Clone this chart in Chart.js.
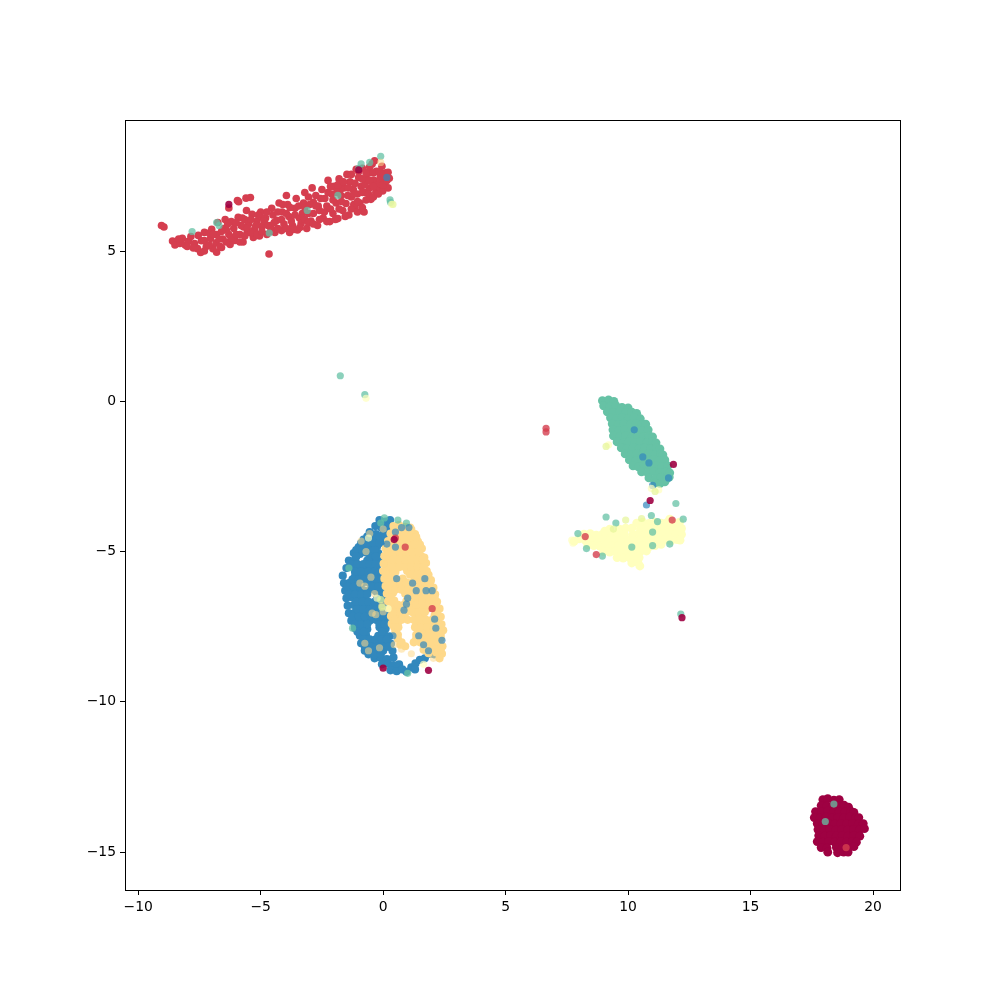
<!DOCTYPE html>
<html>
<head>
<meta charset="utf-8">
<title>Cluster scatter</title>
<script src="https://cdn.jsdelivr.net/npm/chart.js@4"></script>
<style>
    html, body { margin: 0; padding: 0; background: #ffffff; }
    canvas { display: block; }
</style>
</head>
<body>
<canvas id="scatterChart" width="1000" height="1000"></canvas>
<script>
// Tick labels
const xTicks = [-10, -5, 0, 5, 10, 15, 20];
const yTicks = [5, 0, -5, -10, -15];

// Main body of each cluster, [x, y]
const redPoints = [
    [-9.05,5.85],[-8.95,5.8],[-8.6,5.33],[-8.5,5.2],[-8.3,5.25],[-8.2,5.42],[-8.08,5.2],[-7.95,5.32],[-7.85,5.48],[-7.7,5.25],[-7.58,5.08],[-7.55,5.52],
    [-7.42,5.34],[-7.45,4.95],[-7.3,5.62],[-7.22,5.15],[-7.05,5.42],[-7.0,5.72],[-6.95,5.08],[-6.82,5.27],[-6.8,5.55],[-6.75,5.95],[-6.8,4.96],[-6.6,5.12],
    [-6.55,5.4],[-6.5,5.75],[-6.45,6.05],[-6.3,6.43],[-6.3,5.55],[-6.25,5.22],[-6.2,5.98],[-6.1,5.75],[-6.05,5.35],[-5.95,6.68],[-5.9,6.64],[-5.92,6.12],[-5.85,5.55],
    [-5.8,5.85],[-5.72,5.3],[-5.65,6.05],[-5.58,6.35],[-5.55,5.62],[-5.5,5.9],[-5.6,6.76],[-5.42,6.78],[-5.35,6.22],[-5.3,5.45],[-5.25,5.72],[-5.15,6.0],[-5.05,5.5],
    [-5.0,6.3],[-4.95,5.82],[-4.8,6.1],[-4.75,5.55],[-4.66,4.9],[-4.6,5.85],[-4.55,6.42],[-4.5,6.2],[-4.42,5.62],[-4.35,6.02],[-4.25,6.6],[-4.15,5.68],[-4.12,6.3],
    [-4.05,5.9],[-3.95,6.85],[-3.9,6.55],[-3.85,6.15],[-3.82,5.62],[-3.7,5.85],[-3.6,6.42],[-3.55,6.75],[-3.5,5.7],[-3.42,6.1],[-3.35,5.92],[-3.25,6.6],[-3.2,6.95],
    [-3.12,5.75],[-3.05,6.25],[-2.95,6.0],[-2.9,7.1],[-2.85,6.62],[-2.75,6.85],[-2.68,5.85],[-2.6,6.35],[-2.5,7.05],[-2.45,6.1],[-2.38,6.75],[-2.3,6.5],[-2.25,7.35],
    [-2.18,5.98],[-2.1,6.9],[-2.05,6.25],[-2.0,7.15],[-1.92,6.6],[-1.85,6.08],[-1.8,7.4],[-1.72,6.85],[-1.65,6.35],[-1.6,7.1],[-1.52,6.58],[-1.48,7.55],[-1.4,6.2],
    [-1.35,7.3],[-1.3,6.8],[-1.22,7.05],[-1.15,6.45],[-1.1,7.72],[-1.05,6.9],[-1.0,7.45],[-0.95,6.6],[-0.9,7.15],[-0.85,7.75],[-0.78,6.3],[-0.72,6.95],[-0.68,7.4],
    [-0.6,7.6],[-0.55,7.1],[-0.5,6.72],[-0.45,7.9],[-0.38,7.35],[-0.3,6.95],[-0.28,7.65],[-0.2,7.15],[-0.12,7.45],[-0.05,7.82],[-0.02,7.0],[0.08,7.3],[0.1,7.6],
    [0.2,7.1],[0.25,7.42],[-0.35,8.0],[-0.75,7.2],[-1.2,6.55],[-2.65,6.5],[-3.05,6.8],[-4.5,5.7],[-4.9,6.1],[-5.7,5.8],[-6.4,5.7],[-7.1,5.6],[-1.75,7.05],[-0.15,7.25]
];
const redFill = [
    [-8.35,5.4],[-8.0,5.15],[-7.75,5.1],[-7.3,5.35],[-7.3,5.0],[-7.1,5.2],[-6.95,5.55],[-6.7,5.4],[-6.65,5.15],[-6.6,5.65],[-6.4,5.3],[-6.35,5.9],[-6.2,5.45],[-6.0,5.55],[-6.0,5.95],
    [-5.85,5.3],[-5.75,6.1],[-5.65,5.5],[-5.55,5.75],[-5.4,6.05],[-5.4,5.6],[-5.2,5.85],[-5.15,5.55],[-5.1,6.2],[-4.95,5.65],[-4.85,6.0],[-4.7,5.85],[-4.75,6.3],[-4.6,5.65],[-4.45,5.95],
    [-4.3,5.75],[-4.3,6.3],[-4.15,6.05],[-4.1,6.55],[-3.95,5.75],[-3.95,6.25],[-3.8,6.45],[-3.75,6.0],[-3.65,5.72],[-3.6,6.2],[-3.45,6.5],[-3.4,5.78],[-3.3,6.25],[-3.2,6.05],[-3.2,6.45],
    [-3.05,5.95],[-3.0,6.55],[-2.85,6.25],[-2.85,5.9],[-2.75,6.5],[-2.6,6.05],[-2.55,6.75],[-2.4,6.3],[-2.3,5.98],[-2.25,6.95],[-2.15,6.4],[-2.15,7.15],[-2.05,6.7],[-1.95,6.05],[-1.9,6.95],
    [-1.85,7.2],[-1.8,6.4],[-1.7,6.65],[-1.62,7.3],[-1.55,6.15],[-1.45,6.85],[-1.42,7.1],[-1.3,6.4],[-1.3,7.55],[-1.2,6.9],[-1.15,7.25],[-1.05,6.3],[-1.05,6.65],[-1.0,7.65],[-0.85,6.45],
    [-0.85,6.95],[-0.85,7.4],[-0.7,6.7],[-0.7,7.6],[-0.6,6.9],[-0.55,7.35],[-0.55,7.8],[-0.4,7.15],[-0.4,6.8],[-0.4,7.6],[-0.2,6.9],[-0.15,7.65],[0.0,7.2],[0.0,7.55],[0.15,7.35],[0.2,7.62]
];
const bluePoints = [
    [-0.15,-3.95],[0.08,-4.0],[0.28,-3.95],[-0.32,-4.15],[-0.08,-4.2],[0.2,-4.18],[-0.55,-4.35],[-0.3,-4.42],[0.0,-4.4],[0.28,-4.38],[-0.8,-4.6],[-0.55,-4.63],[-0.3,-4.6],[-0.05,-4.66],
    [-1.0,-4.85],[-0.75,-4.82],[-0.5,-4.87],[-0.25,-4.83],[-1.2,-5.05],[-0.95,-5.08],[-0.7,-5.03],[-0.45,-5.07],[-0.2,-5.05],[-1.4,-5.3],[-1.15,-5.28],[-0.65,-5.3],[-0.4,-5.27],[-0.18,-5.32],
    [-1.5,-5.55],[-1.25,-5.52],[-1.0,-5.58],[-0.75,-5.55],[-0.5,-5.53],[-0.25,-5.57],[-1.65,-5.8],[-1.15,-5.83],[-0.9,-5.8],[-0.65,-5.77],[-0.4,-5.82],[-0.15,-5.8],
    [-1.6,-6.05],[-1.35,-6.03],[-1.1,-6.08],[-0.85,-6.05],[-0.6,-6.02],[-0.35,-6.07],[-0.1,-6.05],[-1.55,-6.3],[-1.3,-6.28],[-1.05,-6.33],[-0.8,-6.3],[-0.55,-6.27],[-0.3,-6.32],[-0.05,-6.3],
    [-1.5,-6.55],[-1.25,-6.53],[-1.0,-6.58],[-0.75,-6.55],[-0.25,-6.57],[0.0,-6.55],[-1.45,-6.8],[-1.2,-6.78],[-0.95,-6.83],[-0.7,-6.8],[-0.45,-6.77],[-0.2,-6.82],[0.05,-6.8],
    [-1.4,-7.05],[-1.15,-7.03],[-0.9,-7.08],[-0.65,-7.05],[-0.4,-7.02],[-0.15,-7.07],[0.1,-7.05],[-1.3,-7.3],[-1.05,-7.28],[-0.8,-7.33],[-0.55,-7.3],[-0.3,-7.27],[-0.05,-7.32],[0.15,-7.3],
    [-1.15,-7.55],[-0.9,-7.53],[-0.65,-7.58],[-0.15,-7.52],[0.1,-7.57],[-0.95,-7.8],[-0.7,-7.78],[-0.2,-7.8],[0.05,-7.77],[0.25,-7.82],[-0.9,-8.05],[-0.65,-8.03],
    [-0.4,-8.08],[-0.15,-8.05],[0.1,-8.02],[0.32,-8.07],[-0.75,-8.3],[-0.5,-8.28],[-0.25,-8.33],[0.0,-8.3],[0.38,-8.3],[-0.35,-8.55],[-0.1,-8.53],[0.15,-8.58],[0.42,-8.52],[-0.05,-8.75],[0.2,-8.73],
    [0.42,-8.78],[0.65,-8.75],[0.3,-8.95],[0.55,-8.98],[0.78,-8.92],[0.95,-9.0],[1.15,-8.85],[1.32,-8.72],[1.3,-8.92],[1.5,-8.6],[1.7,-8.55],[1.9,-8.4],[2.08,-8.42]
];
const blueFill = [
    [-0.65,-4.5],[-0.4,-4.5],[-0.15,-4.5],[0.1,-4.5],[-0.9,-4.72],[-0.65,-4.72],[-0.4,-4.72],[-0.15,-4.72],[-1.1,-4.95],[-0.85,-4.95],[-0.6,-4.95],[-0.35,-4.95],[-1.1,-5.17],[-0.55,-5.17],[-0.3,-5.17],
    [-1.3,-5.42],[-1.05,-5.42],[-0.8,-5.42],[-0.55,-5.42],[-0.3,-5.42],[-1.15,-5.67],[-0.9,-5.67],[-0.6,-5.67],[-0.35,-5.67],[-1.25,-5.92],[-1.0,-5.92],[-0.75,-5.92],[-0.5,-5.92],[-0.25,-5.92],
    [-1.45,-6.17],[-1.2,-6.17],[-0.95,-6.17],[-0.45,-6.17],[-0.2,-6.17],[-1.4,-6.42],[-1.15,-6.42],[-0.9,-6.42],[-0.65,-6.42],[-0.15,-6.42],[-1.1,-6.67],[-0.85,-6.67],[-0.6,-6.67],[-0.35,-6.67],[-0.1,-6.67],
    [-1.05,-6.92],[-0.8,-6.92],[-0.55,-6.92],[-0.3,-6.92],[-0.05,-6.92],[-1.25,-7.17],[-1.0,-7.17],[-0.75,-7.17],[-0.5,-7.17],[-0.25,-7.17],[0.0,-7.17],[-1.15,-7.42],[-0.9,-7.42],[-0.65,-7.42],[-0.15,-7.42],[0.05,-7.42],
    [-1.05,-7.67],[-0.8,-7.67],[-0.05,-7.67],[-0.8,-7.92],[-0.55,-7.92],[-0.3,-7.92],[-0.05,-7.92],[0.15,-7.92],[-0.75,-8.17],[-0.5,-8.17],[-0.25,-8.17],[0.0,-8.17],[0.2,-8.17],[-0.6,-8.42],[-0.35,-8.42],[-0.1,-8.42]
];
const yellowPoints = [
    [0.42,-4.15],[0.65,-4.12],[0.9,-4.18],[1.1,-4.2],[0.3,-4.4],[0.55,-4.38],[0.8,-4.43],[1.05,-4.4],[1.3,-4.42],[0.2,-4.65],[0.45,-4.63],[0.7,-4.68],[0.95,-4.65],[1.2,-4.62],[1.42,-4.67],
    [0.1,-4.9],[0.35,-4.88],[0.6,-4.93],[0.85,-4.9],[1.1,-4.87],[1.35,-4.92],[1.58,-4.9],[0.05,-5.15],[0.3,-5.13],[0.55,-5.18],[0.8,-5.15],[1.05,-5.12],[1.3,-5.17],[1.55,-5.15],[1.68,-5.2],
    [0.02,-5.4],[0.27,-5.38],[0.52,-5.43],[0.77,-5.4],[1.02,-5.37],[1.27,-5.42],[1.52,-5.4],[1.75,-5.38],[0.0,-5.65],[0.25,-5.63],[0.5,-5.68],[0.98,-5.65],[1.25,-5.62],[1.5,-5.67],[1.78,-5.65],
    [0.05,-5.9],[0.3,-5.88],[0.55,-5.93],[0.8,-5.9],[1.3,-5.87],[1.55,-5.92],[1.8,-5.9],[1.95,-5.95],[0.1,-6.15],[0.35,-6.13],[0.6,-6.18],[0.85,-6.15],[1.1,-6.12],[1.35,-6.17],[1.6,-6.15],[1.85,-6.12],[2.05,-6.2],
    [0.15,-6.4],[0.4,-6.38],[0.9,-6.4],[1.15,-6.37],[1.4,-6.42],[1.65,-6.4],[1.9,-6.38],[2.12,-6.42],[0.2,-6.65],[0.45,-6.63],[0.95,-6.65],[1.2,-6.62],[1.45,-6.67],[1.7,-6.65],[1.95,-6.62],[2.2,-6.67],
    [0.28,-6.9],[0.55,-6.88],[1.05,-6.9],[1.3,-6.87],[1.55,-6.92],[1.8,-6.9],[2.05,-6.88],[2.3,-6.9],[0.32,-7.15],[0.6,-7.13],[0.85,-7.18],[1.35,-7.12],[1.6,-7.17],[2.1,-7.12],[2.35,-7.17],
    [0.35,-7.4],[0.6,-7.38],[1.35,-7.37],[1.6,-7.42],[1.85,-7.4],[2.1,-7.38],[2.38,-7.42],[0.5,-7.65],[1.45,-7.65],[1.7,-7.62],[1.95,-7.67],[2.2,-7.65],[2.45,-7.62],
    [0.6,-7.9],[1.35,-7.9],[1.6,-7.87],[1.85,-7.92],[2.1,-7.9],[2.35,-7.88],[0.7,-8.1],[0.9,-8.15],[1.7,-8.15],[1.95,-8.12],[2.2,-8.17],[2.42,-8.15],[1.85,-8.38],[2.15,-8.35],[2.4,-8.4],[2.3,-8.55]
];
const yellowFill = [
    [0.45,-4.27],[0.7,-4.27],[0.95,-4.27],[1.15,-4.27],[0.35,-4.52],[0.6,-4.52],[0.85,-4.52],[1.1,-4.52],[1.35,-4.52],[0.25,-4.77],[0.5,-4.77],[0.75,-4.77],[1.0,-4.77],[1.25,-4.77],[1.5,-4.77],
    [0.2,-5.02],[0.45,-5.02],[0.7,-5.02],[0.95,-5.02],[1.2,-5.02],[1.45,-5.02],[0.15,-5.27],[0.4,-5.27],[0.65,-5.27],[0.9,-5.27],[1.15,-5.27],[1.4,-5.27],[1.62,-5.27],
    [0.15,-5.52],[0.4,-5.52],[0.65,-5.52],[0.9,-5.52],[1.15,-5.52],[1.4,-5.52],[1.65,-5.52],[0.15,-5.77],[0.4,-5.77],[1.1,-5.77],[1.4,-5.77],[1.65,-5.77],[1.85,-5.77],
    [0.2,-6.02],[0.45,-6.02],[0.7,-6.02],[0.95,-6.02],[1.2,-6.02],[1.45,-6.02],[1.7,-6.02],[1.92,-6.02],[0.25,-6.27],[0.5,-6.27],[0.75,-6.27],[1.0,-6.27],[1.25,-6.27],[1.5,-6.27],[1.75,-6.27],[2.0,-6.27],
    [0.3,-6.52],[1.1,-6.52],[1.35,-6.52],[1.6,-6.52],[1.85,-6.52],[2.1,-6.52],[0.35,-6.77],[0.6,-6.77],[0.85,-6.77],[1.1,-6.77],[1.35,-6.77],[1.6,-6.77],[1.85,-6.77],[2.15,-6.77],
    [0.45,-7.02],[0.7,-7.02],[0.95,-7.02],[1.2,-7.02],[1.45,-7.02],[1.7,-7.02],[2.2,-7.02],[0.5,-7.27],[0.75,-7.27],[1.0,-7.27],[1.25,-7.27],[1.5,-7.27],[1.75,-7.27],[2.0,-7.27],[2.25,-7.27],
    [0.45,-7.52],[0.62,-7.52],[1.3,-7.52],[1.55,-7.52],[1.8,-7.52],[2.05,-7.52],[2.3,-7.52],[0.6,-7.77],[1.35,-7.77],[1.6,-7.77],[1.85,-7.77],[2.1,-7.77],[2.35,-7.77],
    [0.75,-8.02],[1.25,-8.02],[1.5,-8.02],[1.75,-8.02],[2.0,-8.02],[2.25,-8.02],[1.65,-8.27],[1.9,-8.27],[2.15,-8.27],[2.35,-8.27]
];
const tealPoints = [
    [8.95,0.02],[9.2,0.05],[9.42,0.0],[9.0,-0.15],[9.25,-0.18],[9.5,-0.14],[9.75,-0.2],[10.0,-0.22],[9.15,-0.35],[9.4,-0.38],[9.65,-0.34],[9.9,-0.38],[10.15,-0.36],[10.35,-0.4],
    [9.28,-0.55],[9.52,-0.58],[9.76,-0.54],[10.0,-0.58],[10.24,-0.55],[10.5,-0.58],[9.35,-0.75],[9.6,-0.78],[9.84,-0.74],[10.08,-0.78],[10.32,-0.75],[10.56,-0.78],[10.72,-0.76],
    [9.38,-0.95],[9.62,-0.98],[9.86,-0.94],[10.1,-0.98],[10.34,-0.95],[10.58,-0.98],[10.82,-0.95],[9.4,-1.15],[9.65,-1.18],[9.9,-1.14],[10.14,-1.18],[10.38,-1.15],[10.62,-1.18],[10.86,-1.15],[11.0,-1.18],
    [9.55,-1.35],[9.8,-1.38],[10.04,-1.34],[10.28,-1.38],[10.52,-1.35],[10.76,-1.38],[11.0,-1.35],[11.14,-1.38],[9.72,-1.55],[9.96,-1.58],[10.2,-1.54],[10.44,-1.58],[10.68,-1.55],[10.92,-1.58],[11.16,-1.55],[11.3,-1.58],
    [9.88,-1.75],[10.12,-1.78],[10.36,-1.74],[10.6,-1.78],[10.84,-1.75],[11.08,-1.78],[11.32,-1.75],[11.42,-1.78],[10.05,-1.95],[10.3,-1.98],[10.54,-1.94],[10.78,-1.98],[11.02,-1.95],[11.26,-1.98],[11.5,-1.95],
    [10.2,-2.15],[10.42,-2.18],[10.66,-2.14],[10.9,-2.18],[11.14,-2.15],[11.38,-2.18],[11.62,-2.15],[10.55,-2.35],[10.8,-2.38],[11.04,-2.34],[11.28,-2.38],[11.52,-2.35],[11.7,-2.38],[10.85,-2.55],[11.1,-2.58],
    [11.34,-2.54],[11.58,-2.58],[11.68,-2.52],[11.1,-2.72],[11.3,-2.74],[11.5,-2.68]
];
const palePoints = [
    [11.7,-3.92],[10.35,-4.05],[10.6,-4.02],[10.85,-4.06],[11.1,-4.02],[11.35,-4.05],[11.6,-4.03],[11.85,-4.05],[12.1,-4.02],[9.65,-4.25],[9.9,-4.22],[10.5,-4.24],[10.75,-4.22],[11.0,-4.26],[11.25,-4.22],
    [11.5,-4.25],[11.75,-4.22],[12.0,-4.25],[12.18,-4.23],[8.2,-4.42],[8.45,-4.4],[8.95,-4.43],[9.2,-4.4],[9.45,-4.44],[9.7,-4.41],[10.2,-4.43],[10.45,-4.4],[10.7,-4.44],[10.95,-4.41],[11.2,-4.43],[11.45,-4.4],
    [11.7,-4.44],[11.95,-4.41],[12.18,-4.43],[7.8,-4.65],[8.0,-4.58],[8.25,-4.62],[8.5,-4.58],[8.75,-4.62],[9.0,-4.58],[9.25,-4.63],[9.5,-4.6],[9.75,-4.64],[10.0,-4.6],[10.25,-4.63],[10.5,-4.6],[10.75,-4.64],
    [11.0,-4.6],[11.25,-4.63],[11.5,-4.6],[11.75,-4.64],[12.0,-4.6],[12.12,-4.62],[8.35,-4.78],[8.6,-4.8],[8.85,-4.82],[9.1,-4.78],[9.35,-4.82],[9.6,-4.8],[9.85,-4.84],[10.1,-4.8],[10.35,-4.83],[10.6,-4.8],
    [10.85,-4.84],[11.1,-4.8],[11.35,-4.76],[9.0,-5.0],[9.25,-5.02],[9.5,-5.0],[9.75,-5.04],[10.0,-5.0],[10.25,-5.03],[10.5,-5.0],[10.75,-4.98],[9.55,-5.2],[9.8,-5.22],[10.05,-5.2],[10.3,-5.23],
    [10.45,-5.2],[10.15,-5.38],[10.4,-5.36],[10.48,-5.48],[8.7,-4.45],[9.85,-4.42],[10.15,-4.22],[9.25,-4.25],[9.05,-4.32]
];
const darkPoints = [
    [17.95,-13.25],[18.15,-13.22],[18.4,-13.27],[18.62,-13.25],[17.88,-13.45],[18.12,-13.47],[18.36,-13.44],[18.6,-13.47],[18.82,-13.44],[19.0,-13.5],[17.65,-13.65],[17.9,-13.67],[18.14,-13.64],[18.38,-13.67],
    [18.62,-13.65],[18.86,-13.67],[19.1,-13.64],[19.22,-13.68],[17.6,-13.85],[17.84,-13.87],[18.08,-13.84],[18.32,-13.87],[18.56,-13.85],[18.8,-13.87],[19.04,-13.84],[19.28,-13.87],[19.42,-13.85],
    [17.72,-14.05],[17.96,-14.07],[18.2,-14.04],[18.44,-14.07],[18.68,-14.05],[18.92,-14.07],[19.16,-14.04],[19.4,-14.07],[19.6,-14.05],[17.75,-14.25],[18.0,-14.27],[18.24,-14.24],[18.48,-14.27],[18.72,-14.25],
    [18.96,-14.27],[19.2,-14.24],[19.44,-14.27],[19.65,-14.22],[17.78,-14.45],[18.02,-14.47],[18.26,-14.44],[18.5,-14.47],[18.74,-14.45],[18.98,-14.47],[19.22,-14.44],[19.46,-14.47],[17.72,-14.65],[17.96,-14.67],
    [18.2,-14.64],[18.44,-14.67],[18.68,-14.65],[18.92,-14.67],[19.16,-14.64],[19.32,-14.67],[17.88,-14.85],[18.12,-14.87],[18.5,-14.84],[18.74,-14.87],[18.98,-14.85],[19.22,-14.82],[18.15,-15.0],[18.55,-15.02],[18.8,-15.0],[18.98,-15.0]
];

// Strays: points of one class sitting on or near another cluster
const strayTeal = [
    [-1.75,0.85],[-0.75,0.22],[0.28,6.7],[-0.55,7.95],[-0.1,8.15],[-0.9,7.9],[-1.0,7.75],[-3.1,6.35],[-6.8,5.95],[-6.7,5.85],[-7.8,5.65],[-4.65,5.6],[0.3,6.62],[-1.85,6.85],
    [0.05,-3.88],[0.6,-3.95],[0.95,-4.05],[-1.4,-5.55],[-0.1,-4.05],[-1.25,-7.55],[1.0,-9.05],[9.1,-3.85],[9.5,-4.05],[11.0,-4.35],[11.2,-4.0],[11.95,-3.4],[10.95,-3.8],[7.95,-4.4],[8.3,-4.9],[8.95,-5.15],
    [10.15,-4.85],[11.0,-4.8],[11.7,-4.75],[12.15,-7.08],[12.25,-3.92],[18.05,-13.98],[18.4,-13.4]
];
const strayBlue = [
    [0.5,-4.35],[0.75,-4.2],[1.05,-4.2],[0.15,-4.75],[0.5,-4.85],[1.35,-6.3],[1.0,-6.55],[1.75,-6.3],[2.0,-6.3],[0.95,-6.75],[1.2,-6.05],[0.85,-6.95],[1.7,-5.9],[2.1,-7.25],[2.15,-7.55],
    [2.4,-7.95],[1.45,-7.8],[0.4,-7.8],[1.65,-8.1],[1.85,-8.3],[0.55,-5.9],[10.25,-0.95],[10.6,-1.85],[10.85,-2.05],[11.65,-2.55],[11.0,-2.8],[10.75,-3.45],[0.15,7.45]
];
const strayYellow = [
    [0.0,-4.25],[-0.9,-4.65],[-0.55,-4.4],[-0.7,-5.0],[-0.5,-5.85],[-0.75,-6.15],[-0.95,-6.05],[-0.35,-6.4],[-0.3,-7.1],[-0.45,-7.05],[-0.75,-8.05],[-0.6,-8.3],[-0.15,-8.2],[0.45,-8.1],[0.75,-8.25],[1.15,-8.4],
    [-0.05,-6.8],[0.0,-7.0],[2.05,-8.55],[-0.1,7.95],[0.05,-5.4]
];
const strayPale = [
    [-0.6,-4.55],[-0.25,-6.55],[0.2,-6.9],[1.65,-8.75],[10.95,-2.9],[11.25,-2.95],[9.2,-1.45],[0.35,6.55],[-0.7,0.1],[7.7,-4.62],[7.75,-4.72]
];
const strayLime = [
    [9.1,-1.5],[11.1,-3.0],[10.55,-3.9],[9.4,-4.25],[0.4,6.55],[-0.1,-6.6],[-0.05,-6.85],[9.9,-3.95]
];
const strayRed = [
    [6.65,-0.9],[6.65,-1.02],[8.25,-4.5],[8.7,-5.1],[11.8,-3.95],[0.5,-4.55],[0.9,-4.85],[2.0,-6.9],[18.9,-14.85]
];
const strayDark = [
    [11.85,-2.1],[10.9,-3.3],[0.45,-4.6],[1.85,-8.95],[0.0,-8.88],[12.2,-7.2],[-6.3,6.55],[-1.0,7.7]
];

function toXY(points) {
    return points.map(p => ({ x: p[0], y: p[1] }));
}

function layer(points, color, radius) {
    return {
        data: toXY(points),
        backgroundColor: color,
        borderWidth: 0,
        pointRadius: radius,
        pointHoverRadius: radius,
        showLine: false
    };
}

// Frame on all four sides, like the usual matplotlib box
const frameBox = {
    id: 'frameBox',
    afterDatasetsDraw(chart) {
        const a = chart.chartArea;
        const c = chart.ctx;
        c.save();
        c.strokeStyle = '#000000';
        c.lineWidth = 1;
        c.strokeRect(a.left + 0.5, a.top + 0.5, a.width, a.height);
        c.restore();
    }
};

function axisFor(min, max, ticks, fit) {
    return {
        type: 'linear',
        min: min,
        max: max,
        afterBuildTicks(scale) {
            scale.ticks = ticks.map(v => ({ value: v }));
        },
        afterFit: fit,
        border: { display: false },
        grid: { drawOnChartArea: false, tickLength: 5, tickColor: '#000000', tickWidth: 1 },
        ticks: {
            color: '#000000',
            padding: 4,
            autoSkip: false,
            maxRotation: 0,
            font: { family: '"DejaVu Sans"', size: 13.9 },
            callback: v => String(v).replace('-', '\u2212')
        }
    };
}

new Chart(document.getElementById('scatterChart').getContext('2d'), {
    type: 'scatter',
    data: {
        // Chart.js paints the first dataset last, so the strays come first to sit on top
        datasets: [
            layer(strayDark, 'rgba(158,1,66,0.9)', 3.6),
            layer(strayRed, 'rgba(213,62,79,0.8)', 3.6),
            layer(strayLime, 'rgba(230,245,152,0.7)', 3.6),
            layer(strayPale, 'rgba(255,255,190,0.7)', 3.6),
            layer(strayYellow, 'rgba(254,217,139,0.55)', 3.6),
            layer(strayBlue, 'rgba(50,136,189,0.7)', 3.6),
            layer(strayTeal, 'rgba(102,194,165,0.75)', 3.6),
            layer(darkPoints, '#9e0142', 4.4),
            layer(palePoints, '#ffffbe', 4.4),
            layer(tealPoints, '#66c2a5', 4.4),
            layer(yellowFill, '#fed98b', 4.1),
            layer(yellowPoints, '#fed98b', 4.1),
            layer(blueFill, '#3288bd', 4.1),
            layer(bluePoints, '#3288bd', 4.1),
            layer(redFill, '#d53e4f', 3.8),
            layer(redPoints, '#d53e4f', 3.8)
        ]
    },
    plugins: [frameBox],
    options: {
        responsive: false,
        animation: false,
        devicePixelRatio: 1,
        layout: { padding: { top: 120, right: 100, bottom: 0, left: 0 } },
        plugins: { legend: { display: false }, tooltip: { enabled: false } },
        scales: {
            x: axisFor(-10.54, 21.1, xTicks, s => { s.height = 110; }),
            y: axisFor(-16.26, 9.36, yTicks, s => { s.width = 125; })
        }
    }
});
</script>
</body>
</html>
